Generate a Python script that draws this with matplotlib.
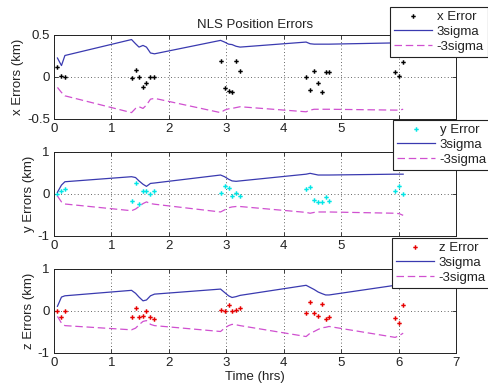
import matplotlib
matplotlib.use("Agg")
import matplotlib.pyplot as plt
from matplotlib.lines import Line2D

plt.rcParams['font.family'] = ['Liberation Sans', 'DejaVu Sans']

# ---- data ----
t = [0.06, 0.13, 0.19,
     1.35, 1.42, 1.48, 1.55, 1.61, 1.68, 1.75,
     2.90, 2.97, 3.04, 3.10, 3.17, 3.24,
     4.39, 4.46, 4.53, 4.60, 4.67, 4.73, 4.79,
     5.94, 6.01, 6.08]

x_err = [0.11, 0.01, -0.01,
         -0.02, 0.08, 0.00, -0.13, -0.08, 0.00, 0.00,
         0.19, -0.14, -0.17, -0.19, 0.19, 0.07,
         0.00, -0.16, 0.07, -0.08, -0.19, 0.05, 0.05,
         0.05, 0.01, 0.17]
x_up = [0.22, 0.13, 0.25,
        0.44, 0.39, 0.35, 0.37, 0.35, 0.28, 0.27,
        0.43, 0.41, 0.385, 0.38, 0.36, 0.35,
        0.41, 0.39, 0.385, 0.385, 0.385, 0.385, 0.385,
        0.40, 0.40, 0.40]
x_lo = [-0.13, -0.19, -0.23,
        -0.43, -0.38, -0.36, -0.38, -0.34, -0.27, -0.26,
        -0.43, -0.40, -0.385, -0.38, -0.37, -0.36,
        -0.42, -0.40, -0.39, -0.39, -0.39, -0.39, -0.39,
        -0.40, -0.40, -0.39]

y_err = [0.00, 0.06, 0.10,
         -0.19, 0.25, -0.26, 0.05, 0.06, -0.02, 0.06,
         0.02, 0.18, 0.12, -0.05, 0.02, -0.07,
         0.10, 0.16, -0.15, -0.21, -0.21, -0.08, -0.17,
         0.05, 0.17, -0.02]
y_up = [0.03, 0.20, 0.28,
        0.40, 0.38, 0.30, 0.22, 0.17, 0.24, 0.25,
        0.44, 0.40, 0.34, 0.30, 0.29, 0.30,
        0.46, 0.48, 0.46, 0.44, 0.44, 0.44, 0.44,
        0.46, 0.46, 0.46]
y_lo = [-0.06, -0.20, -0.25,
        -0.41, -0.37, -0.31, -0.24, -0.20, -0.24, -0.255,
        -0.44, -0.39, -0.34, -0.32, -0.31, -0.31,
        -0.45, -0.47, -0.45, -0.44, -0.44, -0.44, -0.44,
        -0.47, -0.48, -0.52]

z_err = [-0.02, -0.15, -0.01,
         -0.16, 0.05, -0.16, -0.14, -0.01, -0.15, -0.21,
         0.02, -0.02, 0.14, -0.02, 0.02, 0.05,
         -0.05, 0.21, -0.05, -0.12, 0.16, -0.21, -0.16,
         -0.17, -0.29, 0.14]
z_up = [0.10, 0.32, 0.35,
        0.48, 0.41, 0.32, 0.23, 0.25, 0.35, 0.39,
        0.51, 0.43, 0.35, 0.31, 0.33, 0.36,
        0.60, 0.55, 0.50, 0.44, 0.40, 0.37, 0.37,
        0.60, 0.61, 0.62]
z_lo = [-0.14, -0.30, -0.36,
        -0.46, -0.42, -0.34, -0.26, -0.24, -0.33, -0.36,
        -0.50, -0.42, -0.36, -0.33, -0.34, -0.36,
        -0.62, -0.54, -0.50, -0.45, -0.41, -0.40, -0.38,
        -0.64, -0.60, -0.54]

labels_err = ['x Error', 'y Error', 'z Error']
ylabels = ['x Errors (km)', 'y Errors (km)', 'z Errors (km)']
err_colors = ['black', '#00E6E6', '#E60000']
ylims = [(-0.5, 0.5), (-1, 1), (-1, 1)]
yticks = [[-0.5, 0, 0.5], [-1, 0, 1], [-1, 0, 1]]
ytick_labels = [['-0.5', '0', '0.5'], ['-1', '0', '1'], ['-1', '0', '1']]
xticks = [0, 1, 2, 3, 4, 5, 6, 7]
# labels 6 and 7 of the upper two panels are hidden under the legends in the reference
xtick_labels = [['0', '1', '2', '3', '4', '5', '', ''],
                ['0', '1', '2', '3', '4', '5', '', ''],
                ['0', '1', '2', '3', '4', '5', '6', '7']]

errs = [x_err, y_err, z_err]
ups = [x_up, y_up, z_up]
los = [x_lo, y_lo, z_lo]

W, H = 489, 387
fig = plt.figure(figsize=(W / 100, H / 100), dpi=100)

def fx(px):
    return px / W

def fy(py):
    return 1 - py / H

axes_px = [(34.5, 118.5), (151.5, 235.5), (268.5, 352.5)]
legend_anchor_px = [(390, 7), (393, 120), (392, 238)]
fs = 9.5
ms = 3.2
up_color = '#3A3AB0'
lo_color = '#D050D0'
dash = (0, (6, 3))

for i in range(3):
    top, bot = axes_px[i]
    ax = fig.add_axes([fx(54), fy(bot), fx(456 - 54), (bot - top) / H])
    ax.plot(t, errs[i], linestyle='none', marker='P', markersize=ms,
            markeredgewidth=0, color=err_colors[i])
    ax.plot(t, ups[i], color=up_color, linewidth=0.9)
    ax.plot(t, los[i], color=lo_color, linewidth=0.9, linestyle=dash)
    ax.set_xlim(0, 7)
    ax.set_ylim(*ylims[i])
    ax.set_xticks(xticks)
    ax.set_xticklabels(xtick_labels[i])
    ax.set_yticks(yticks[i])
    ax.set_yticklabels(ytick_labels[i])
    ax.grid(True, color='#333333', linestyle=(0, (1, 3)), linewidth=0.6)
    ax.tick_params(direction='in', length=3, width=0.6, labelsize=fs,
                   top=True, right=True, pad=3, colors='#222222',
                   labelcolor='#222222')
    for s in ax.spines.values():
        s.set_linewidth(0.7)
        s.set_color('#222222')
    ax.set_ylabel(ylabels[i], fontsize=fs, labelpad=2, color='#222222')
    if i == 0:
        ax.set_title('NLS Position Errors', fontsize=fs, pad=5, color='#222222')
    if i == 2:
        ax.set_xlabel('Time (hrs)', fontsize=fs, labelpad=2, color='#222222')

    handles = [
        Line2D([], [], linestyle='none', marker='P', markersize=ms,
               markeredgewidth=0, color=err_colors[i]),
        Line2D([], [], color=up_color, linewidth=0.9),
        Line2D([], [], color=lo_color, linewidth=0.9, linestyle=dash),
    ]
    ax_px, ay_px = legend_anchor_px[i]
    leg = fig.legend(handles, [labels_err[i], '3sigma', '-3sigma'],
                     loc='upper left', bbox_to_anchor=(fx(ax_px), fy(ay_px)),
                     bbox_transform=fig.transFigure, fontsize=fs,
                     frameon=True, fancybox=False, borderaxespad=0,
                     handlelength=2.9, handletextpad=0.35, borderpad=0.3,
                     labelspacing=0.2, numpoints=1)
    leg.get_frame().set_edgecolor('#222222')
    leg.get_frame().set_linewidth(0.8)
    leg.get_frame().set_alpha(1)
    for txt in leg.get_texts():
        txt.set_color('#222222')

fig.savefig('out.png', dpi=100)
